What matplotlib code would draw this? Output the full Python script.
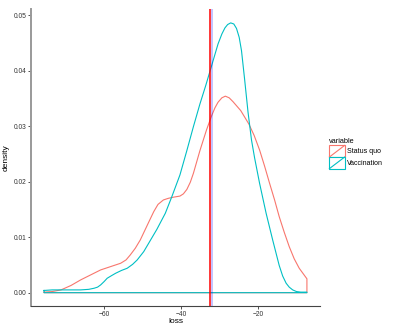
import numpy as np
import matplotlib
matplotlib.use('Agg')
import matplotlib.pyplot as plt
from matplotlib.legend_handler import HandlerBase
from matplotlib.patches import Rectangle
from matplotlib.lines import Line2D

plt.rcParams['font.family'] = ['Liberation Sans', 'DejaVu Sans']

# density curves (loss, density)
sq_loss = [-75.6, -73.5, -71.2, -68.6, -66.1, -63.5, -60.9, -58.3, -55.7, -54.3, -53.2, -51.9,
           -50.6, -49.3, -48.0, -47.1, -46.0, -44.6, -43.3, -42.0, -40.3, -39.4, -38.5, -37.6,
           -36.8, -35.1, -33.4, -32.1, -31.2, -30.4, -29.4, -28.5, -27.5, -26.5, -24.5, -22.4,
           -21.0, -19.6, -18.3, -17.0, -15.7, -14.5, -13.2, -11.9, -10.6, -9.3, -7.3]
sq_dens = [0.0001, 0.0002, 0.0005, 0.0013, 0.0023, 0.0032, 0.0041, 0.0047, 0.0053, 0.0059, 0.0068, 0.0080,
           0.0095, 0.0114, 0.0133, 0.0146, 0.0159, 0.0167, 0.0170, 0.0172, 0.0174, 0.0178, 0.0186, 0.0199,
           0.0215, 0.0256, 0.0293, 0.0318, 0.0333, 0.0343, 0.0351, 0.0354, 0.0351, 0.0344, 0.0328, 0.0304,
           0.0283, 0.0257, 0.0228, 0.0197, 0.0167, 0.0137, 0.0109, 0.0083, 0.0061, 0.0044, 0.0025]

vac_loss = [-75.6, -73.5, -71.2, -68.5, -66.1, -64.0, -62.6, -61.7, -60.9, -60.0, -59.2, -58.0,
            -57.0, -55.5, -54.0, -52.6, -51.4, -49.7, -48.0, -46.3, -44.1, -42.4, -40.3, -38.5,
            -36.8, -35.1, -33.6, -32.1, -30.4, -29.4, -28.6, -27.9, -27.1, -26.3, -25.6, -24.9,
            -24.3, -23.5, -22.6, -21.7, -20.9, -19.6, -17.9, -16.2, -14.5, -13.6, -12.7, -11.9,
            -11.0, -10.0, -8.9, -7.3]
vac_dens = [0.0004, 0.0005, 0.0005, 0.0005, 0.0005, 0.0006, 0.0008, 0.0010, 0.0014, 0.0020, 0.0026, 0.0031,
            0.0035, 0.0040, 0.0044, 0.0051, 0.0059, 0.0074, 0.0094, 0.0114, 0.0143, 0.0173, 0.0212, 0.0256,
            0.0299, 0.0340, 0.0373, 0.0408, 0.0448, 0.0466, 0.0477, 0.0483, 0.0486, 0.0484, 0.0476, 0.0460,
            0.0436, 0.0385, 0.0325, 0.0275, 0.0243, 0.0197, 0.0143, 0.0095, 0.0049, 0.0030, 0.0017, 0.0010,
            0.0005, 0.0002, 0.0001, 0.0001]

groups = ['Status quo', 'Vaccination']
colors = ['#F8766D', '#00BFC4']
# vertical reference lines (means)
mean_lines = [-32.4, -32.0]
mean_colors = ['#FF0000', '#0000FF']
mean_alpha = [1.0, 0.3]

x_ticks = [-60, -40, -20]
y_ticks = [0.00, 0.01, 0.02, 0.03, 0.04, 0.05]


class HandlerDensityKey(HandlerBase):
    """ggplot-style density legend key: box with a diagonal"""
    def create_artists(self, legend, orig_handle, xdescent, ydescent, width, height, fontsize, trans):
        c = orig_handle.get_color()
        box = Rectangle((-xdescent, -ydescent), width, height, facecolor='white',
                        edgecolor=c, linewidth=0.8, transform=trans)
        diag = Line2D([-xdescent, -xdescent + width], [-ydescent, -ydescent + height],
                      color=c, linewidth=0.8, transform=trans)
        return [box, diag]


fig = plt.figure(figsize=(3.99, 3.30), dpi=100)
ax = fig.add_axes([31 / 399, 24 / 330, 289 / 399, 297 / 330])

handles = []
for lx, ly, name, c in zip([sq_loss, vac_loss], [sq_dens, vac_dens], groups, colors):
    # closed outline like geom_density
    ox = lx + [lx[-1], lx[0], lx[0]]
    oy = ly + [0, 0, ly[0]]
    h, = ax.plot(ox, oy, color=c, linewidth=0.8, label=name, solid_joinstyle='round')
    handles.append(h)

for m, c, a in zip(mean_lines, mean_colors, mean_alpha):
    ax.axvline(m, color=c, linewidth=1.1, alpha=a)

ax.set_xlim(-79.0, -3.9)
ax.set_ylim(-0.0024, 0.0511)
ax.set_xticks(x_ticks)
ax.set_xticklabels(['\u221260', '\u221240', '\u221220'])
ax.set_yticks(y_ticks)
ax.set_yticklabels(['%.2f' % v for v in y_ticks])
ax.tick_params(labelsize=4.8, length=2, width=0.6, color='#333333', pad=1.5, labelcolor='#333333')
for s in ['top', 'right']:
    ax.spines[s].set_visible(False)
ax.spines['left'].set_color('#999999')
ax.spines['left'].set_linewidth(1.4)
ax.spines['bottom'].set_color('#444444')
ax.spines['bottom'].set_linewidth(0.8)

ax.set_xlabel('loss', fontsize=6)
ax.set_ylabel('density', fontsize=6)
ax.xaxis.set_label_coords(0.5, -0.04)
ax.yaxis.set_label_coords(-0.075, 0.5)

leg = fig.legend(handles=handles, labels=groups, title='variable',
                 handler_map={Line2D: HandlerDensityKey()},
                 loc='upper left', bbox_to_anchor=(328 / 399, 1 - 137 / 330),
                 frameon=False, fontsize=5, title_fontsize=5.3,
                 handlelength=2.2, handleheight=2.2, labelspacing=0.0,
                 handletextpad=0.3, borderaxespad=0, borderpad=0.2)
leg._legend_box.align = 'left'

fig.savefig('out.png', dpi=100)
